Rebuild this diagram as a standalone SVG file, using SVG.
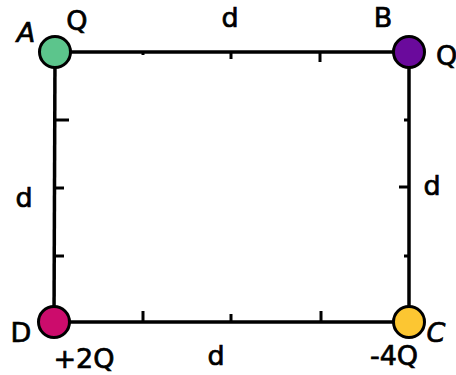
<svg xmlns="http://www.w3.org/2000/svg" width="456" height="375" viewBox="0 0 456 375">
<style>
.ln{stroke:#000;stroke-width:3.5;fill:none;stroke-linecap:butt}
.tk{stroke:#000;stroke-width:3;fill:none}
.q{stroke:#000;stroke-width:3}
text{font-family:"DejaVu Sans","Liberation Sans",sans-serif;font-size:27px;fill:#000;stroke:#000;stroke-width:0.7;text-anchor:middle}
.it{font-style:italic}
</style>
<rect width="456" height="375" fill="#fff"/>
<g id="connectors">
<line class="ln" x1="55" y1="52" x2="409" y2="52"/>
<line class="ln" x1="409" y1="52" x2="409" y2="322"/>
<line class="ln" x1="409" y1="322" x2="54" y2="322"/>
<line class="ln" x1="54" y1="322" x2="55" y2="52"/>
<g id="ticks">
<line class="tk" x1="143" y1="52" x2="143" y2="55"/>
<line class="tk" x1="231" y1="52" x2="231" y2="59"/>
<line class="tk" x1="320" y1="52" x2="320" y2="62"/>
<line class="tk" x1="409" y1="120" x2="404" y2="120"/>
<line class="tk" x1="409" y1="187" x2="399" y2="187"/>
<line class="tk" x1="409" y1="256" x2="404" y2="256"/>
<line class="tk" x1="55" y1="120" x2="69" y2="120"/>
<line class="tk" x1="55" y1="188" x2="64" y2="188"/>
<line class="tk" x1="55" y1="256" x2="64" y2="256"/>
<line class="tk" x1="143" y1="322" x2="143" y2="311"/>
<line class="tk" x1="231" y1="322" x2="231" y2="314"/>
<line class="tk" x1="321" y1="322" x2="321" y2="311"/>
</g>
</g>
<g id="A"><circle class="q" cx="55" cy="52" r="15.5" fill="#5cc58c"/><text class="it" x="26" y="42">A</text><text x="77" y="30">Q</text></g>
<g id="B"><circle class="q" cx="409" cy="52" r="15.5" fill="#6a0a9c"/><text x="383" y="27">B</text><text x="436" y="65" style="text-anchor:start">Q</text></g>
<g id="C"><circle class="q" cx="409" cy="322" r="15.5" fill="#fcc632"/><text class="it" x="436" y="342">C</text><text x="394" y="365">-4Q</text></g>
<g id="D"><circle class="q" cx="54" cy="322" r="15.5" fill="#cc0c6c"/><text x="21" y="342">D</text><text x="84" y="368">+2Q</text></g>
<g id="labels">
<text x="230" y="27">d</text>
<text x="24" y="207">d</text>
<text x="432" y="195">d</text>
<text x="216" y="365">d</text>
</g>
</svg>
